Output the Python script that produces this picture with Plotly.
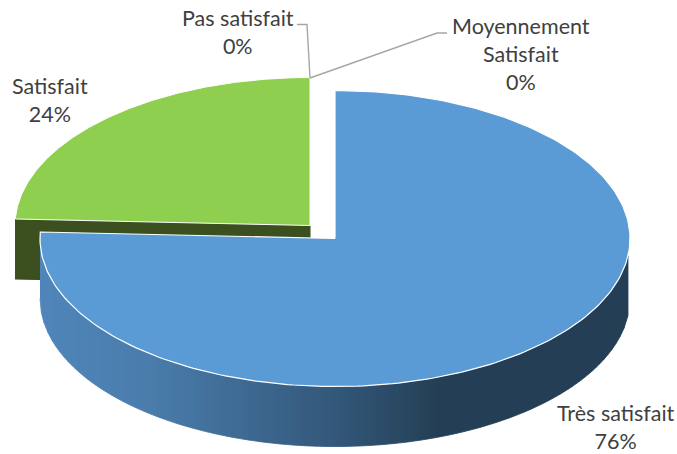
import numpy as np
import plotly.graph_objects as go

labels = ["Très satisfait", "Satisfait", "Pas satisfait", "Moyennement<br>Satisfait"]
values = [75.7, 24.3, 0, 0]
top_colors = ["#5B9BD5", "#8FCF50", "#A5A5A5", "#FFC000"]
green_side = "#3C501F"
text_color = "#404040"
leader_color = "#A6A6A6"

W, H = 677, 454
RX, RY, DEPTH = 295, 148, 60
centers = [(335, 238.5), (310, 225.5)]
label_pos = [(615.5, 427), (49.5, 100), (237.5, 32), (520.5, 54)]
leaders = [None, None, [(297, 24.5), (307, 24.5), (310, 78)], [(447, 33), (437, 33), (310, 78)]]

grad_x = [40, 150, 335, 440, 631]
grad_rgb = np.array([[80, 134, 186], [74, 125, 172], [51, 88, 122], [36, 63, 85], [36, 63, 85]])

fig = go.Figure()
def poly(xs, ys, fill, line=None, width=1):
    fig.add_trace(go.Scatter(x=list(xs), y=list(ys), mode="lines", fill="toself", fillcolor=fill,
                             line=dict(color=line or fill, width=width), hoverinfo="skip", showlegend=False))

def wedge(cx, cy, a0, a1, n=240):
    t = np.radians(np.linspace(a0, a1, n))
    x = cx + RX * np.sin(t)
    y = cy - RY * np.cos(t)
    return np.r_[cx, x, cx], np.r_[cy, y, cy]

total = sum(values)
angles = np.cumsum([0] + values) * 360 / total
(bx, by), (gx, gy) = centers

# green slice: cut face, then top
g_left_y = gy - RY * np.cos(np.radians(angles[1]))
poly([gx - RX, gx, gx, gx - RX], [g_left_y, gy, gy + DEPTH, g_left_y + DEPTH], green_side)
wx, wy = wedge(gx, gy, angles[1], angles[2])
poly(wx, wy, top_colors[1], "#FFFFFF", 1)

# blue slice: side strips with a horizontal gradient, then top
edges = np.arange(bx - RX, bx + RX + 1, 4.0)
for a, b in zip(edges[:-1], edges[1:]):
    xs = np.linspace(a, b, 4)
    u = np.clip((xs - bx) / RX, -1, 1)
    top = by + RY * np.sqrt(1 - u ** 2)
    c = [int(np.interp((a + b) / 2, grad_x, grad_rgb[:, i])) for i in range(3)]
    col = f"rgb({c[0]},{c[1]},{c[2]})"
    poly(np.r_[xs, xs[::-1]], np.r_[top, (top + DEPTH)[::-1]], col, col, 0.8)
wx, wy = wedge(bx, by, angles[0], angles[1])
poly(wx, wy, top_colors[0], "#FFFFFF", 1.2)

# leader lines for the empty slices
for pts in leaders:
    if pts:
        fig.add_trace(go.Scatter(x=[p[0] for p in pts], y=[p[1] for p in pts], mode="lines",
                                 line=dict(color=leader_color, width=1.4), hoverinfo="skip", showlegend=False))

for lab, val, (x, y) in zip(labels, values, label_pos):
    fig.add_annotation(x=x, y=y, text=f"{lab}<br>{round(val)}%", showarrow=False, align="center",
                       font=dict(family="Lato", size=21.5, color=text_color))

fig.update_layout(width=W, height=H, margin=dict(l=0, r=0, t=0, b=0), autosize=False,
                  paper_bgcolor="white", plot_bgcolor="white", showlegend=False,
                  xaxis=dict(range=[0, W], visible=False, fixedrange=True),
                  yaxis=dict(range=[H, 0], visible=False, fixedrange=True))
fig.write_html("out.html", config=dict(displayModeBar=False),
               post_script="document.body.style.margin='0';document.documentElement.style.overflow='hidden';")
